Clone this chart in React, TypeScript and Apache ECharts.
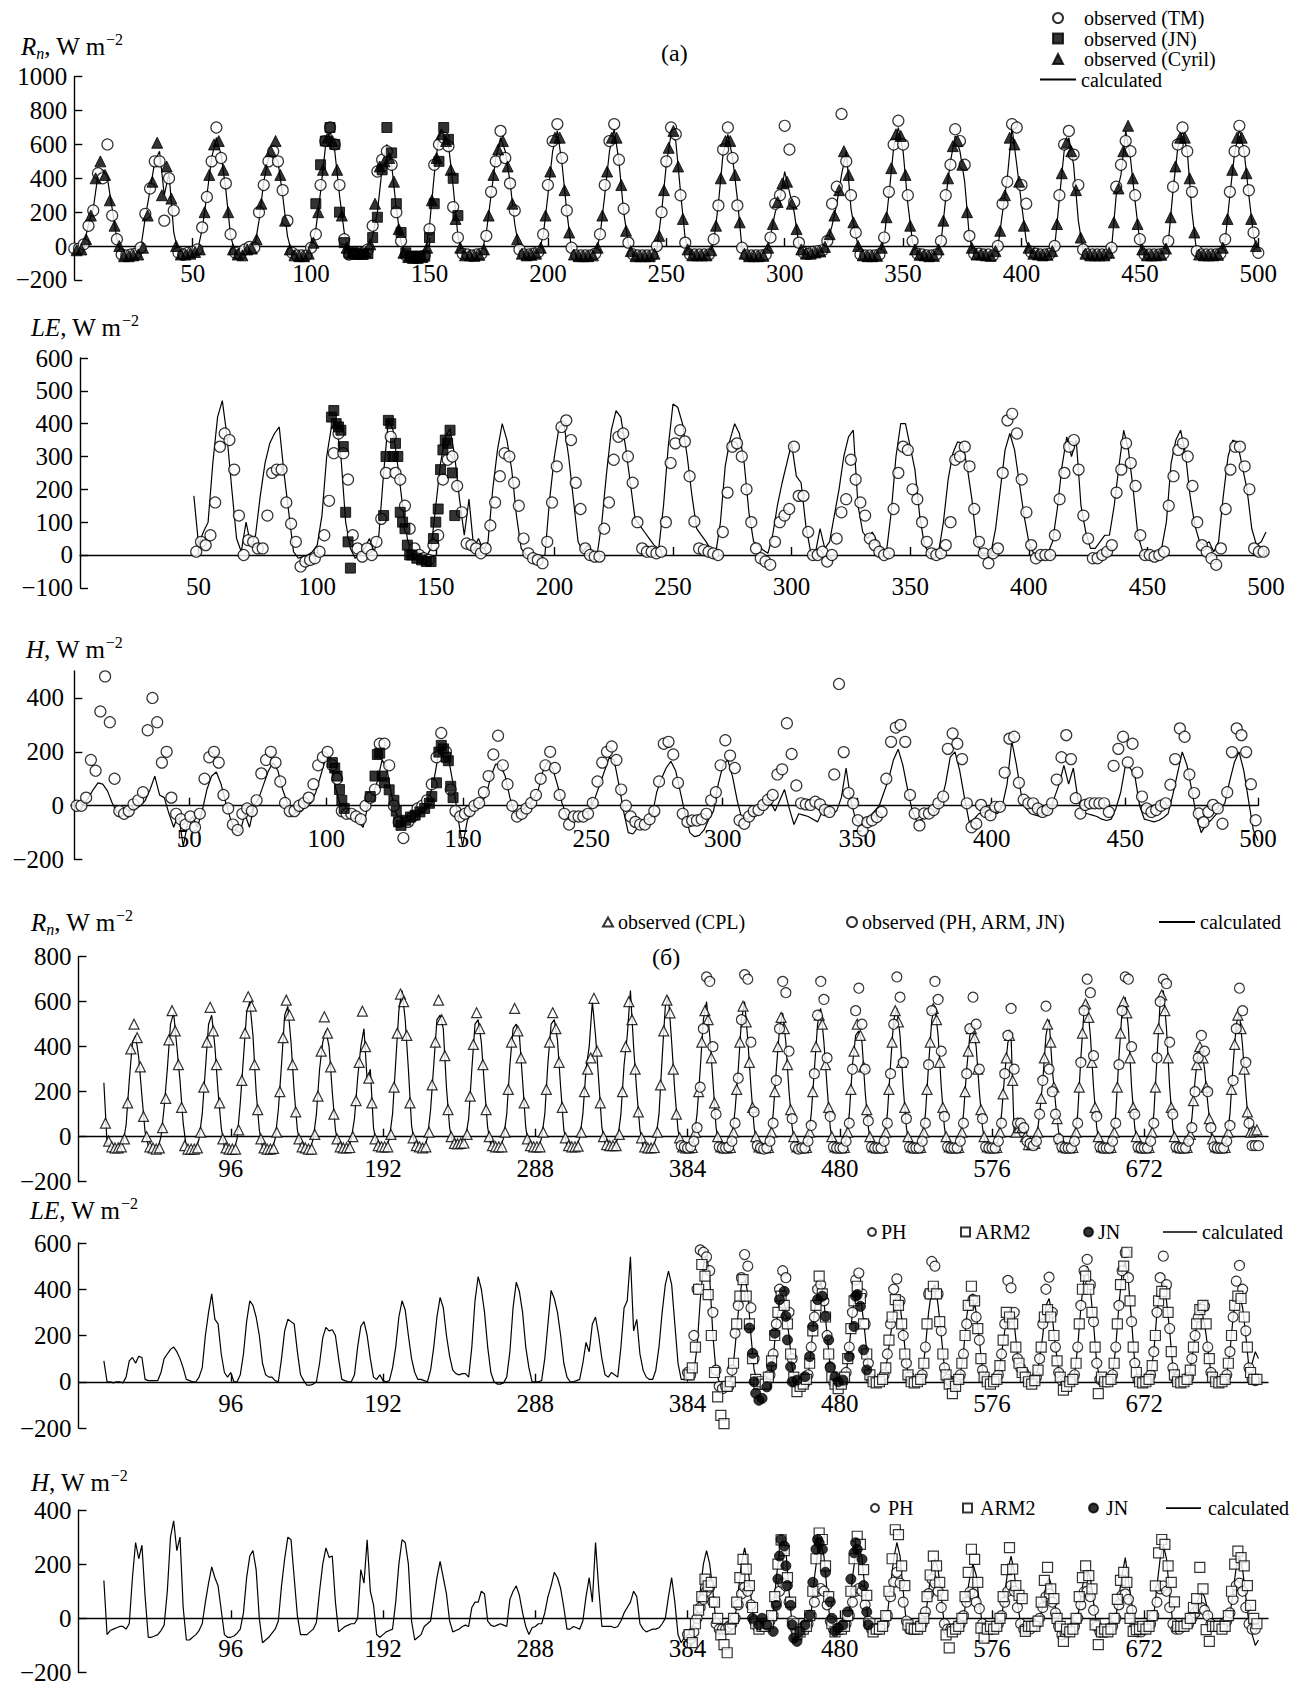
import React, { useEffect, useRef } from "react";
import * as echarts from "echarts";

const FONT = "'Liberation Serif', 'Times New Roman', Times, serif";

// ---------------- tick values / labels ----------------
const xTicksA = [50, 100, 150, 200, 250, 300, 350, 400, 450, 500];
const hTicksA = [48.6, 106.4, 164.2, 218.4, 273.9, 330.7, 387.5, 443.9, 500];
const hLabelsA = ["50", "100", "150", "250", "300", "350", "400", "450", "500"];
const xTicksB = [96, 192, 288, 384, 480, 576, 672];
const hYTicksA = [-200, 0, 200, 400];

// ---------------- panel (a): Rn ----------------
const rnACalc = [
  [-20,-20,0,130,220,420,450,400,220,40,-55,-60],
  [-55,-50,-20,170,330,500,560,300,430,80,-45,-50],
  [-45,-40,-30,100,300,520,640,540,330,60,-45,-55],
  [-25,-10,-20,150,380,520,540,500,300,60,-50,-60],
  [-60,-60,-20,100,320,580,680,560,300,80,-40,-40],
  [-40,-40,-30,60,200,460,600,480,220,20,-60,-70],
  [-70,-70,-60,120,420,660,640,600,350,60,-50,-55],
  [-60,-55,-50,80,300,520,640,560,380,130,-30,-55],
  [-55,-50,-40,60,300,560,680,480,200,-20,-60,-60],
  [-60,-60,-50,60,300,560,690,500,200,10,-55,-60],
  [-60,-60,-60,-20,200,480,660,620,320,40,-55,-55],
  [-55,-55,-55,20,250,550,660,520,280,-20,-60,-60],
  [-60,-60,-55,60,200,280,440,320,200,10,-40,-45],
  [-40,-35,-30,20,120,250,420,560,220,60,-50,-60],
  [-60,-60,-55,40,300,580,700,560,250,20,-50,-55],
  [-60,-60,-55,20,280,500,650,560,380,50,-50,-50],
  [-55,-55,-60,-10,200,400,700,480,250,30,-40,-50],
  [-55,-55,-50,-10,280,560,640,480,150,-30,-55,-55],
  [-55,-55,-55,-20,300,420,680,520,260,20,-55,-55],
  [-55,-55,-50,20,330,580,680,560,200,-40,-55,-55],
  [-55,-55,-50,30,300,550,690,560,300,60,-40],
].flat();
const rnATM = [
  [-15,-15,10,120,210,430,400,600,180,40,-50,-55],
  [-50,-45,-10,190,340,500,500,150,400,210,-40,-50],
  [-40,-35,-20,110,290,500,700,520,370,70,-40,-50],
  [-20,-5,-10,200,360,500,560,500,330,150,-40,-55],
  [-55,-55,-10,70,360,620,700,600,360,40,-50,-45],
  [-45,-40,-20,120,440,510,560,480,200,30,-55,-65],
  [-65,-65,-55,100,480,600,640,590,230,50,-45,-50],
  [-55,-50,-45,60,320,500,680,520,370,210,-20,-50],
  [-50,-45,-35,70,360,620,720,520,210,-10,-55,-55],
  [-55,-55,-45,70,360,620,720,510,220,20,-50,-55],
  [-55,-55,-55,0,200,500,700,660,300,20,-50,-50],
  [-50,-50,-50,40,240,570,700,520,240,-10,-55,-55],
  [-55,-55,-50,50,250,300,710,570,260,20,-40,-45],
  [-35,-30,-25,30,250,350,780,500,300,80,-50,-55],
  [-55,-55,-50,50,320,600,740,600,300,30,-45,-50],
  [-55,-55,-50,30,300,480,690,620,480,60,-45,-45],
  [-50,-50,-55,0,250,380,720,700,360,250,-35,-45],
  [-50,-50,-45,0,300,600,680,540,360,-20,-50,-50],
  [-50,-50,-50,-10,350,480,620,560,300,40,-50,-50],
  [-50,-50,-45,30,350,600,700,560,320,-30,-50,-50],
  [-50,-50,-45,40,320,560,710,560,330,80,-40],
].flat();
const rnACyril = [
  [-25,-20,40,180,400,500,420,270,120,0,-60,-60],
  [-55,-50,-10,180,380,610,300,470,280,0,-50,-50],
  [-45,-35,-20,200,420,600,620,450,200,-20,-50,-55],
  [-20,-15,40,250,450,560,620,420,150,-20,-55,-60],
  [-60,-45,20,200,450,640,620,450,180,-10,-45,-40],
  [-40,-35,10,250,470,500,520,380,100,-40,-65,-70],
  [-70,-65,-10,270,520,660,620,450,160,-10,-55,-55],
  [-58,-52,-20,180,420,570,620,470,250,40,-45,-55],
  [-52,-45,-10,180,440,640,640,330,80,-50,-60,-60],
  [-60,-55,-10,180,440,640,640,360,90,-30,-60,-60],
  [-60,-60,-45,60,330,580,680,470,160,-20,-55,-55],
  [-55,-55,-25,120,400,620,620,420,140,-45,-60,-60],
  [-60,-58,-10,130,260,370,380,250,100,-20,-45,-45],
  [-38,-32,-5,70,180,330,560,420,140,0,-55,-60],
  [-60,-58,-10,170,460,660,650,420,120,-20,-52,-55],
  [-60,-58,-20,150,400,590,620,480,200,-10,-50,-50],
  [-55,-58,-30,90,300,640,600,380,120,-10,-45,-50],
  [-55,-52,-30,130,430,610,560,330,50,-45,-55,-55],
  [-55,-55,-40,140,340,560,710,400,130,-20,-55,-55],
  [-55,-52,-15,170,470,640,640,400,80,-50,-55,-55],
  [-55,-52,-10,160,450,640,640,430,160,0],
].flat();
const rnAJN = [250,480,620,700,600,200,20,-40,-40,-50,-50,-45,50,170,450,700,550,250,80,-40,-60,-60,-60,-60,50,250,500,700,630,400,180];

// ---------------- panel (a): LE ----------------
const leACalc = [
  [180,30,70,100,280,420,470,360,200,50,10,100],
  [30,60,180,280,340,370,390,250,130,10,-10,-5],
  [0,10,30,120,300,390,400,300,100,20,-10,5],
  [20,50,10,60,250,410,380,270,150,50,0,-5],
  [-10,-5,20,150,280,360,385,300,170,60,170,20],
  [50,15,40,200,320,400,350,260,120,20,0,-5],
  [-5,-5,0,170,300,390,400,300,170,40,10,30],
  [10,0,100,250,380,440,420,330,220,110,90,70],
  [50,30,20,150,330,460,450,400,300,180,80,60],
  [40,15,5,100,270,350,400,370,280,130,40,30],
  [15,5,60,150,220,280,340,240,220,90,10,5],
  [80,20,40,120,200,300,360,380,150,70,50,70],
  [40,20,10,130,300,400,400,330,260,120,30,5],
  [5,10,100,230,310,345,340,270,170,40,5,5],
  [5,80,200,320,370,320,220,120,40,5,5,5],
  [5,40,140,270,360,300,350,150,70,20,20,40],
  [60,60,150,270,380,320,200,60,10,5,5,10],
  [20,100,280,350,380,310,180,90,40,30,40,10],
  [40,180,300,350,340,270,200,80,30,40,70],
].flat();
const leATM = [
  [10,40,30,60,160,330,370,350,260,120,0,45],
  [40,20,20,120,250,260,260,160,95,40,-35,-20],
  [-15,-10,10,60,165,310,370,310,230,60,20,-5],
  [20,0,40,110,250,360,250,230,150,80,20,0],
  [-10,-15,30,60,230,290,300,210,130,35,30,20],
  [5,20,90,160,240,310,300,220,150,50,5,-10],
  [-15,-25,40,160,270,390,410,350,220,140,20,0],
  [-5,-5,80,160,290,360,370,300,220,100,20,10],
  [10,5,10,100,280,340,380,346,240,102,20,15],
  [10,5,0,70,190,330,340,300,200,100,20,-10],
  [-20,-30,40,100,120,140,330,180,180,70,0,0],
  [10,-20,0,50,130,170,290,230,160,120,50,30],
  [10,0,5,140,250,330,320,200,170,100,40,5],
  [0,5,30,100,290,300,330,270,140,40,5,-25],
  [5,20,250,410,430,370,230,130,30,-10,0,0],
  [0,60,170,250,330,350,260,120,50,-10,-10,0],
  [10,30,190,260,340,280,210,60,0,0,-5,0],
  [10,150,240,320,340,300,210,100,30,10,-10,-30],
  [20,140,260,330,330,270,200,20,10,10],
].flat();
const leAJN = [[106,420],[107,440],[108,400],[109,390],[110,380],[111,330],[112,130],[113,40],[114,-40],[128,120],[129,300],[130,410],[131,400],[132,300],[133,340],[134,300],[135,130],[136,100],[137,80],[138,30],[139,0],[140,0],[142,-10],[144,-15],[146,-20],[148,-20],[149,50],[150,100],[151,140],[152,260],[153,320],[154,350],[155,340],[156,380],[157,250],[158,120]];

// ---------------- panel (a): H ----------------
const hACalc = [
  [0,0,5,30,60,85,80,55,10,-25,-30,-25],
  [-15,-10,0,20,60,110,40,30,-30,-80,-30,-150],
  [-60,-40,-80,-20,60,110,125,80,10,-50,-90,-100],
  [-30,-80,0,30,80,130,160,130,60,10,-20,-25],
  [-20,0,10,50,110,170,180,80,10,-20,-10,-30],
  [-60,-80,0,40,90,170,140,40,-30,-65,-70,-55],
  [-40,-30,-20,30,100,200,220,180,80,-40,-150,-55],
  [-20,5,10,40,110,155,150,110,30,-30,-25,-10],
  [5,25,60,130,165,140,80,10,-40,-60,-50,-40],
  [-30,-10,30,80,130,180,170,80,-20,-100,-105,-80],
  [-60,-50,-40,50,100,140,165,130,50,-30,-100,-115],
  [-110,-90,-50,-20,80,150,170,110,20,-50,-50,-35],
  [-20,-10,10,15,-20,20,60,-10,-70,-30,-35,-40],
  [-50,-60,-20,0,-30,-20,30,140,20,-50,-70,-50],
  [-40,-20,0,50,100,170,210,150,60,-20,-60,-50],
  [-40,-30,-20,10,80,180,200,130,30,-60,-50,-30],
  [-25,-20,-20,-30,0,80,240,150,40,-10,-30,-35],
  [-40,-30,-20,30,80,150,80,140,20,-25,-30,-35],
  [-40,-50,-55,-50,-10,50,150,140,110,0,-50,-55],
  [-60,-55,-45,-30,40,120,200,150,60,-40,-100,-70],
  [-55,-35,-15,10,90,160,200,130,20,-90,-130],
].flat();
const hATM = [
  [0,0,30,170,130,350,480,310,100,-20,-30,-20],
  [5,20,50,280,400,310,160,200,30,-30,-50,-70],
  [-40,-80,-30,100,180,200,160,40,-10,-70,-90,-30],
  [-10,-20,20,120,170,200,160,90,10,-20,-20,0],
  [10,30,80,150,180,200,150,100,-20,-30,-30,-40],
  [-50,0,30,60,230,230,150,0,-60,-120,-60,-40],
  [-10,0,20,80,180,270,200,60,-20,-40,-30,-20],
  [0,10,50,110,190,260,150,80,0,-40,-30,-10],
  [10,40,100,150,200,140,40,-30,-70,-40,-40,-40],
  [-30,10,90,160,200,220,170,60,0,-40,-60,-70],
  [-70,-50,-20,90,230,237,190,85,-30,-60,-55,-55],
  [-50,-30,20,50,150,243,186,140,-54,-67,-40,-20],
  [-16,3,22,40,116,135,306,192,75,9,5,3],
  [15,5,-16,-23,116,452,199,47,9,-54,-92,-61],
  [-54,-42,-23,100,237,290,300,237,40,-29,-73,-29],
  [-29,-16,9,34,211,268,230,173,9,-80,-67,3],
  [-23,-35,-4,-4,123,249,256,85,22,9,9,-10],
  [-23,-16,9,97,180,262,173,28,-29,3,9,9],
  [9,9,-23,148,211,256,161,230,123,34,-10,-23],
  [-16,0,9,78,173,287,256,116,47,-29,-61,-23],
  [3,-10,-67,50,199,287,262,199,80,-54],
].flat();
const hAJN = [[109,160],[110,140],[111,110],[112,60],[113,20],[114,-10],[125,34],[127,110],[128,190],[129,195],[130,110],[131,85],[133,59],[135,20],[136,-20],[137,-60],[138,-73],[140,-54],[142,-42],[144,-35],[146,-23],[148,-10],[150,9],[151,34],[153,85],[154,199],[155,224],[156,211],[157,180],[158,167],[159,72],[160,30]];

// ---------------- panel (b): Rn ----------------
const rnBCalc = [
  [240,-30,-40,-50],
  [-55,-50,-30,50,250,420,450,350,180,20,-40,-50],
  [-55,-55,0,130,300,500,550,400,250,60,-50,-55],
  [-55,-55,-10,100,300,500,540,400,200,40,-50,-55],
  [-55,-60,-10,150,350,550,600,450,200,30,-50,-55],
  [-55,-55,-10,120,320,540,580,420,200,30,-45,-50],
  [-55,-55,-10,100,300,420,470,400,200,30,-45,-50],
  [-50,-50,-10,80,260,400,480,250,300,40,-40,-45],
  [-45,-45,-10,100,330,560,650,520,300,50,-40,-45],
  [-50,-50,-5,120,320,520,540,480,220,40,-30,-35],
  [-30,-30,-10,80,300,500,520,420,220,40,-40,-45],
  [-45,-50,-5,100,320,480,500,450,250,40,-40,-45],
  [-45,-50,-5,100,330,500,520,430,220,30,-40,-45],
  [-45,-45,-5,100,300,400,600,450,250,40,-30,-40],
  [-40,-40,-10,100,320,450,650,400,200,30,-45,-50],
  [-50,-50,-10,100,350,580,620,420,200,30,-45,-50],
  [-50,-50,-10,100,300,520,600,450,250,40,-45,-50],
  [-50,-50,-10,120,300,520,600,430,220,40,-45,-50],
  [-50,-50,-10,100,300,480,550,420,200,40,-45,-50],
  [-50,-50,-10,100,300,500,570,420,220,40,-45,-50],
  [-50,-50,-10,100,320,450,470,420,200,40,-45,-50],
  [-50,-50,-10,100,320,520,570,450,220,40,-45,-50],
  [-50,-50,-10,100,320,520,580,450,220,40,-45,-50],
  [-50,-50,-10,100,300,450,480,400,200,40,-45,-50],
  [-50,-50,-10,100,280,420,450,0,40,40,30,-30],
  [-30,-40,-10,100,250,450,520,300,150,20,-45,-50],
  [-50,-50,-10,100,350,560,600,450,220,40,-45,-50],
  [-50,-50,-10,100,350,560,620,480,220,40,-45,-50],
  [-50,-50,-10,100,350,600,650,480,220,40,-45,-50],
  [-50,-50,-10,80,250,380,400,300,150,20,-45,-50],
  [-50,-50,-10,100,320,500,550,400,200,30,20,30],
  [25],
].flat();
const rnBCPL = [
  [60,-20,-45,-50],
  [-50,-45,-10,150,390,500,440,310,90,0,-45,-50],
  [-55,-50,40,170,430,560,470,320,130,-40,-55,-55],
  [-55,-50,20,220,420,575,470,320,150,-10,-50,-55],
  [-55,-55,30,250,460,622,580,320,120,-10,-50,-55],
  [-55,-52,20,200,440,607,540,320,110,-10,-45,-50],
  [-55,-55,10,180,380,533,460,310,100,-10,-45,-50],
  [-50,-48,0,160,330,558,400,260,150,-10,-40,-45],
  [-45,-45,10,220,460,634,600,450,150,-5,-40,-45],
  [-50,-45,20,230,420,607,520,360,120,0,-30,-32],
  [-30,-28,10,180,410,551,480,320,120,0,-40,-45],
  [-45,-45,20,210,420,570,470,350,150,-10,-40,-45],
  [-45,-45,20,210,420,551,480,330,130,-5,-40,-45],
  [-45,-42,20,200,300,350,615,380,150,0,-35,-40],
  [-40,-40,10,200,400,600,520,300,110,-5,-45,-50],
  [-50,-48,20,230,470,607,550,300,100,-5,-45,-50],
  [-50,-48,20,200,420,560,520,350,150,0,-45,-50],
  [-50,-48,20,210,420,580,510,330,130,0,-45,-50],
  [-50,-48,20,200,400,530,480,320,120,0,-45,-50],
  [-50,-48,20,200,400,540,500,320,130,0,-45,-50],
  [-50,-48,20,210,380,500,450,310,120,0,-45,-50],
  [-50,-48,20,210,420,560,510,330,130,0,-45,-50],
  [-50,-48,20,210,420,570,520,330,130,0,-45,-50],
  [-50,-48,20,200,380,480,440,300,120,0,-45,-50],
  [-50,-48,20,190,350,450,250,20,40,40,0,-35],
  [-35,-30,20,170,350,500,420,220,80,-10,-45,-50],
  [-50,-48,20,220,460,590,530,330,130,0,-45,-50],
  [-50,-48,20,220,460,600,550,350,130,0,-45,-50],
  [-50,-48,20,220,480,630,560,350,130,0,-45,-50],
  [-50,-48,10,160,320,400,350,220,80,-10,-45,-50],
  [-50,-48,20,210,410,540,480,300,110,20,25,30],
].flat();
const rnBObs = [
  [-40,-45],
  [-50,-45,-20,40,220,480,710,690,400,100,-45,-50],
  [-50,-45,-20,60,260,520,720,700,420,110,-40,-50],
  [-55,-50,-20,60,250,480,690,640,380,80,-45,-55],
  [-50,-50,-20,50,280,540,690,610,350,90,-45,-50],
  [-50,-50,-20,60,300,560,660,500,300,70,-45,-50],
  [-50,-50,-20,60,280,500,710,620,330,80,-45,-50],
  [-50,-50,-20,60,320,560,690,610,380,90,-45,-50],
  [-50,-50,-20,60,280,480,620,500,300,80,-45,-50],
  [-50,-50,-20,60,280,450,570,300,60,60,40,-20],
  [-30,-40,-20,100,250,580,300,200,100,-10,-45,-50],
  [-50,-50,-20,60,330,560,700,640,360,90,-45,-50],
  [-50,-50,-20,60,320,560,710,700,400,100,-45,-50],
  [-50,-50,-20,60,350,600,700,680,420,100,-45,-50],
  [-50,-50,-20,40,200,350,450,380,200,40,-45,-50],
  [-50,-50,-20,50,250,480,660,560,330,60,-40,-40],
  [-40],
].flat();

// ---------------- panel (b): LE ----------------
const leBCalc = [
  [90,0,0,-5],
  [0,0,-5,20,90,105,80,110,105,10,5,5],
  [5,5,40,100,120,140,150,130,100,60,10,5],
  [0,0,20,60,200,300,380,270,250,120,40,20],
  [40,0,0,30,120,260,350,330,280,200,80,30],
  [20,20,5,0,100,220,270,260,250,130,30,5],
  [-15,-15,-10,0,80,190,235,220,225,200,100,10],
  [5,0,0,30,150,240,260,200,100,20,10,30],
  [5,0,5,60,150,280,350,310,200,100,40,10],
  [10,5,0,50,150,280,365,320,200,110,50,35],
  [30,35,35,20,150,350,455,400,300,150,40,0],
  [-10,-10,-5,20,130,320,430,390,300,150,60,0],
  [0,0,5,100,250,395,360,300,200,80,20,0],
  [0,5,10,80,170,130,250,280,200,100,30,20],
  [40,30,20,150,320,350,540,220,270,120,50,20],
  [10,10,50,150,300,420,478,420,250,80,10,10],
  [20,30,40,150,350,500,560,450,200,40,0,0],
  [0,0,20,150,300,420,460,380,200,50,0,0],
  [0,0,20,100,250,350,380,300,200,60,0,0],
  [0,5,20,150,300,400,430,350,200,60,0,0],
  [0,10,30,150,300,380,400,320,200,60,10,0],
  [0,5,20,100,200,300,350,330,220,80,10,0],
  [0,5,30,150,300,400,420,330,200,60,10,0],
  [0,5,30,130,280,370,380,300,180,50,10,0],
  [0,5,30,120,220,290,300,250,120,60,40,10],
  [0,5,20,100,200,330,360,280,150,50,10,0],
  [0,5,30,150,320,450,500,400,250,80,10,0],
  [0,5,30,150,330,470,520,430,260,80,10,0],
  [0,5,30,130,300,400,430,350,220,60,10,0],
  [0,5,20,100,200,280,300,250,150,40,10,0],
  [0,5,30,130,280,370,380,320,200,60,80,130],
  [100],
].flat();
const leBPH = [
  [40,30,200,400,570,560,540,480,300,50,-20,-30],
  [-20,-20,50,210,330,450,550,500,320,100,0,-10],
  [-10,-10,30,120,250,400,480,450,300,100,0,-10],
  [-10,-5,30,150,280,400,420,350,200,60,0,-5],
  [-5,0,40,150,300,440,470,380,250,80,10,0],
  [0,5,30,120,250,400,445,350,200,80,20,0],
  [0,5,30,150,380,520,500,380,220,60,10,0],
  [0,5,30,120,250,330,355,280,180,50,10,0],
  [0,5,30,120,250,438,406,300,100,60,40,10],
  [0,5,20,100,250,400,452,300,150,40,5,0],
  [0,5,30,150,330,480,529,420,260,80,10,0],
  [0,5,30,150,330,480,558,450,260,80,10,0],
  [0,5,30,130,300,450,543,420,230,60,10,0],
  [0,5,20,100,200,280,320,326,150,40,10,0],
  [0,5,30,130,280,435,503,400,220,60,10,5],
].flat();
const leBARM = [
  [30,60,150,400,507,457,377,200,40,-65,-145,-181],
  [-20,0,80,250,370,442,370,250,100,10,-10,0],
  [-10,20,90,200,300,370,330,250,120,20,-43,-20],
  [-10,10,80,220,330,457,380,280,120,20,-10,-30],
  [-10,20,100,230,350,413,360,250,120,30,0,-5],
  [0,10,60,180,280,355,330,250,120,30,0,-5],
  [0,10,80,250,380,413,380,260,120,30,-10,-51],
  [-20,10,80,200,330,413,350,230,100,20,0,-10],
  [0,10,70,180,300,280,250,150,80,40,20,0],
  [-10,5,50,150,280,312,280,200,90,20,-36,-20],
  [0,10,80,250,400,457,400,300,150,-51,20,0],
  [0,10,80,250,420,500,560,350,150,40,0,-5],
  [0,10,70,200,350,391,380,300,130,30,0,-5],
  [0,10,50,150,250,312,330,250,100,20,0,-5],
  [0,10,80,200,330,370,360,280,150,40,10,10],
].flat();
const leBJN = [[423,232],[425,123],[426,0],[427,-50],[429,-80],[431,-72],[434,-22],[437,65],[439,210],[442,355],[445,391],[446,283],[447,181],[449,65],[450,0],[453,7],[458,22],[461,109],[463,239],[466,355],[469,370],[471,283],[473,181],[474,65],[477,22],[479,0],[482,7],[486,109],[489,239],[490,370],[491,377],[493,326],[495,138],[497,51]];

// ---------------- panel (b): H ----------------
const hBCalc = [
  [140,-60,-45,-40],
  [-35,-30,-30,-40,-20,150,280,220,270,80,-70,-70],
  [-65,-60,-45,-25,100,300,360,250,300,40,-80,-80],
  [-70,-60,-45,-20,60,130,190,150,120,30,-60,-70],
  [-70,-65,-55,-40,20,150,230,250,180,0,-90,-80],
  [-70,-55,-40,-10,120,220,300,290,150,10,-60,-60],
  [-60,-50,-40,-15,100,200,260,225,230,60,-50,-40],
  [-30,-25,-20,-20,0,180,130,290,100,50,-60,-70],
  [-60,-50,-45,-40,60,200,290,280,200,-10,-80,-70],
  [-60,-30,-20,-10,70,150,210,150,90,-10,-50,-45],
  [-40,-30,-25,-30,40,60,60,100,90,-10,-25,-30],
  [-25,-20,-25,-30,70,100,120,85,20,-30,-60,-35],
  [-30,-20,-20,20,80,120,170,150,110,40,-40,-40],
  [-30,-35,-40,-10,80,150,60,280,110,-30,-30,-30],
  [-30,-35,-30,-10,20,40,60,100,80,-20,-40,-50],
  [-45,-40,-40,-35,-20,0,80,150,60,-60,-90,-70],
  [-60,-40,-20,20,100,200,250,200,100,-20,-60,-50],
  [-50,-40,-30,0,100,200,260,200,80,-20,-50,-40],
  [-40,-30,-20,20,150,250,300,250,100,-30,-70,-60],
  [-50,-40,-20,20,150,240,280,230,100,-20,-60,-50],
  [-40,-30,-20,20,150,240,270,220,100,-20,-60,-50],
  [-40,-30,-20,10,120,220,280,230,100,-20,-50,-40],
  [-40,-30,-20,0,100,180,220,180,80,-30,-60,-50],
  [-40,-30,-20,0,80,150,200,160,60,-30,-50,-40],
  [-40,-30,-20,0,90,180,230,170,60,-20,-40,-30],
  [-30,-30,-20,-10,50,120,150,110,40,-20,-40,-40],
  [-50,-40,-30,0,80,150,180,150,60,-30,-70,-60],
  [-50,-40,-30,0,80,160,224,140,60,-30,-60,-50],
  [-40,-30,-20,10,120,220,270,220,90,-20,-40,-30],
  [-30,-20,-20,-10,30,70,100,80,30,-20,-40,-40],
  [-40,-30,-20,10,100,190,230,180,80,-20,-60,-100],
  [-80],
].flat();
const hBPH = [
  [-60,-75,-50,0,40,70,100,115,60,-20,-40,-40],
  [-40,-30,-20,0,50,90,115,100,50,-10,-30,-30],
  [-30,-20,-10,10,60,100,130,120,60,-10,-40,-40],
  [-40,-30,-20,10,60,100,110,100,50,-10,-40,-40],
  [-40,-30,-20,10,60,100,110,100,50,-10,-40,-40],
  [-40,-30,-20,10,80,133,170,130,60,-10,-40,-40],
  [-40,-30,-20,24,91,145,130,100,40,-20,-40,-40],
  [-40,-30,-20,10,60,97,90,60,36,-20,-40,-40],
  [-40,-30,-20,10,60,100,121,100,40,-20,-40,-40],
  [-40,-30,-20,0,40,80,90,60,20,-30,-61,-55],
  [-50,-40,-30,0,50,97,100,80,30,-30,-50,-50],
  [-50,-40,-30,0,50,85,90,70,30,-30,-50,-50],
  [-40,-30,-20,10,60,109,120,100,40,-20,-40,-40],
  [-30,-20,-20,0,20,36,40,30,10,-20,-30,-30],
  [-30,-20,-10,20,70,121,130,100,40,-20,-40,-40],
].flat();
const hBARM = [
  [-60,-90,-20,30,80,145,120,133,60,0,-61,-97],
  [-127,-40,0,60,150,218,182,121,40,-20,-40,-30],
  [-30,-20,10,80,200,290,250,150,60,-20,-60,-50],
  [-40,-30,10,100,220,315,291,194,80,-20,-50,-40],
  [-40,-30,10,100,220,303,273,180,85,-20,-50,-40],
  [-40,-30,10,100,220,327,309,194,121,-24,-36,-40],
  [-40,-30,0,80,160,230,194,133,85,-61,-109,-50],
  [-40,-30,0,80,170,255,218,133,-36,-73,-40,-30],
  [-40,-30,0,80,180,261,182,121,85,73,-48,-30],
  [-30,-30,-10,60,140,188,109,73,0,-30,-85,-40],
  [-50,-40,0,80,150,194,158,109,-24,-97,-50,-40],
  [-50,-40,0,70,140,170,133,0,-48,-42,-40,-30],
  [-40,-30,10,120,242,291,273,194,133,61,-30,-30],
  [-30,-20,0,40,73,188,109,-42,-85,-30,-30,-30],
  [-40,-30,10,100,200,248,224,194,121,48,0,-20],
].flat();
const hBJN = [[425,0],[429,-24],[431,0],[434,-24],[438,-48],[440,48],[441,145],[442,230],[443,291],[445,267],[446,194],[447,121],[449,48],[450,-24],[451,-73],[453,-85],[455,-48],[458,-24],[461,12],[463,133],[465,255],[466,291],[467,279],[469,255],[471,170],[474,61],[475,0],[477,-48],[479,-36],[482,-24],[485,24],[487,145],[489,242],[490,279],[491,255],[494,218],[495,121],[497,24],[498,-24]];

// ---------------- helpers ----------------
const seq = (start: number, vals: number[]) => vals.map((v, i) => [start + i * 2, v]);
const minus = (v: number) => (v < 0 ? "\u2212" + Math.abs(v) : String(v));
const AX = { color: "#000", width: 1.4 };

function yAx(gi: number, min: number, max: number, interval: number, custom?: number[]) {
  const o: any = {
    type: "value", gridIndex: gi, min, max, interval,
    axisLine: { show: true, lineStyle: AX },
    axisTick: { show: true, inside: true, length: 8, lineStyle: AX },
    axisLabel: { show: true, margin: 7, fontFamily: FONT, fontSize: 25, color: "#000", formatter: minus },
    splitLine: { show: false },
  };
  if (custom) { o.axisTick.customValues = custom; o.axisLabel.customValues = custom; }
  return o;
}
function xAx(gi: number, min: number, max: number, ticks: number[], margin: number, fmt?: (v: number) => string) {
  return {
    type: "value", gridIndex: gi, min, max,
    axisLine: { show: true, onZero: true, lineStyle: AX },
    axisTick: { show: true, inside: true, length: 8, lineStyle: AX, customValues: ticks },
    axisLabel: { show: true, margin, fontFamily: FONT, fontSize: 25, color: "#000", customValues: ticks, formatter: fmt || ((v: number) => String(v)) },
    splitLine: { show: false },
  };
}
const lineS = (gi: number, data: any[]) => ({
  type: "line", name: "calculated", xAxisIndex: gi, yAxisIndex: gi, data,
  symbol: "none", lineStyle: { color: "#000", width: 1.2 }, itemStyle: { color: "#000" }, z: 2, silent: true,
});
const scat = (name: string, gi: number, data: any[], symbol: string, size: number, filled: boolean, z = 3) => ({
  type: "scatter", name, xAxisIndex: gi, yAxisIndex: gi, data, symbol, symbolSize: size,
  itemStyle: filled ? { color: "#000", borderColor: "#000", borderWidth: 1 } : { color: "#fff", borderColor: "#000", borderWidth: 1.2 },
  z, silent: true,
});

const hLabelFmt = (v: number) => {
  let b = 0;
  for (let i = 0; i < hTicksA.length; i++) if (Math.abs(hTicksA[i] - v) < Math.abs(hTicksA[b] - v)) b = i;
  return hLabelsA[b];
};

const rich = {
  it: { fontFamily: FONT, fontStyle: "italic", fontWeight: "normal", fontSize: 25, lineHeight: 30, color: "#000" },
  t: { fontFamily: FONT, fontWeight: "normal", fontSize: 25, lineHeight: 30, color: "#000" },
  sub: { fontFamily: FONT, fontStyle: "italic", fontWeight: "normal", fontSize: 16, lineHeight: 14, verticalAlign: "bottom", color: "#000" },
  sup: { fontFamily: FONT, fontWeight: "normal", fontSize: 16, lineHeight: 14, verticalAlign: "top", color: "#000" },
};
const ttl = (text: string, left: number, top: number) => ({
  text, left, top, padding: 0,
  textStyle: { fontFamily: FONT, fontWeight: "normal", fontSize: 25, color: "#000", rich },
});
const lineIcon = "path://M0,0L40,0L40,2L0,2Z";
const legText = { fontFamily: FONT, fontSize: 20, color: "#000" };
const leg = (data: any[], left: number, top: number, w: number, h: number, extra: any = {}) => ({
  data, left, top, itemWidth: w, itemHeight: h, padding: 0, selectedMode: false,
  textStyle: legText, ...extra,
});

function buildOption() {
  return {
    animation: false,
    backgroundColor: "#fff",
    title: [
      ttl("{it|R}{sub|n}{t|, W m}{sup|\u22122}", 21, 31),
      ttl("{it|LE}{t|, W m}{sup|\u22122}", 31, 312),
      ttl("{it|H}{t|, W m}{sup|\u22122}", 26, 634),
      ttl("{it|R}{sub|n}{t|, W m}{sup|\u22122}", 31, 907),
      ttl("{it|LE}{t|, W m}{sup|\u22122}", 30, 1195),
      ttl("{it|H}{t|, W m}{sup|\u22122}", 31, 1467),
      { text: "(a)", left: 661, top: 41, padding: 0, textStyle: { fontFamily: FONT, fontWeight: "normal", fontSize: 24, color: "#000" } },
      { text: "(\u0431)", left: 652, top: 945, padding: 0, textStyle: { fontFamily: FONT, fontWeight: "normal", fontSize: 24, color: "#000" } },
    ],
    legend: [
      leg(["observed (TM)", "observed (JN)", "observed (Cyril)"], 1052, 8, 10, 10,
        { orient: "vertical", itemGap: 0.5, textStyle: { ...legText, lineHeight: 20, padding: [0, 0, 0, 16] } }),
      leg([{ name: "calculated", icon: lineIcon }], 1040, 69.5, 36, 10, { textStyle: { ...legText, lineHeight: 20 } }),
      leg(["observed (CPL)"], 602, 912, 10, 9),
      leg(["observed (PH, ARM, JN)"], 846, 912, 10, 10),
      leg([{ name: "calculated", icon: lineIcon }], 1159, 912, 36, 10),
      leg(["PH"], 867, 1222, 8, 9),
      leg(["ARM2"], 960, 1222, 9, 9),
      leg(["JN"], 1083, 1222, 9, 9),
      leg([{ name: "calculated", icon: lineIcon }], 1163, 1222, 34, 10),
      leg(["PH"], 870, 1498, 8, 9, { textStyle: { ...legText, padding: [0, 0, 0, 4] } }),
      leg(["ARM2"], 962, 1498, 9, 9, { textStyle: { ...legText, padding: [0, 0, 0, 3] } }),
      leg(["JN"], 1088, 1498, 9, 9, { textStyle: { ...legText, padding: [0, 0, 0, 3] } }),
      leg([{ name: "calculated", icon: lineIcon }], 1166, 1498, 35, 10, { textStyle: { ...legText, padding: [0, 0, 0, 2] } }),
    ],
    grid: [
      { left: 74.3, top: 76.7, width: 1184, height: 203.2 },
      { left: 80, top: 358, width: 1186, height: 229.8 },
      { left: 71, top: 671, width: 1187, height: 188.6 },
      { left: 78.5, top: 956.7, width: 1189.5, height: 225 },
      { left: 78.5, top: 1243, width: 1189.5, height: 185 },
      { left: 78.5, top: 1510, width: 1189.5, height: 166.7 },
    ],
    xAxis: [
      xAx(0, 0, 500, xTicksA, -19),
      xAx(1, 0, 500, xTicksA, -14),
      xAx(2, -1.4, 500, hTicksA, -34, hLabelFmt),
      xAx(3, 0, 750, xTicksB, -26),
      xAx(4, 0, 750, xTicksB, -37),
      xAx(5, 0, 750, xTicksB, -37),
    ],
    yAxis: [
      yAx(0, -200, 1000, 200),
      yAx(1, -100, 600, 100),
      yAx(2, -200, 500, 200, hYTicksA),
      yAx(3, -200, 800, 200),
      yAx(4, -200, 600, 200),
      yAx(5, -200, 400, 200),
    ],
    series: [
      lineS(0, seq(0, rnACalc)),
      scat("observed (TM)", 0, seq(0, rnATM), "circle", 11, false),
      scat("observed (Cyril)", 0, seq(1, rnACyril), "triangle", 11, true, 4),
      scat("observed (JN)", 0, seq(102, rnAJN), "rect", 10, true, 5),

      lineS(1, seq(48, leACalc)),
      scat("observed (TM)", 1, seq(49, leATM), "circle", 11, false),
      scat("observed (JN)", 1, leAJN, "rect", 10, true, 4),

      lineS(2, seq(0, hACalc)),
      scat("observed (TM)", 2, seq(1, hATM), "circle", 11, false),
      scat("observed (JN)", 2, hAJN, "rect", 10, true, 4),

      lineS(3, seq(16, rnBCalc)),
      scat("observed (CPL)", 3, seq(17, rnBCPL), "triangle", 10, false),
      scat("observed (PH, ARM, JN)", 3, seq(380, rnBObs), "circle", 10, false, 4),

      lineS(4, seq(16, leBCalc)),
      scat("PH", 4, seq(384, leBPH), "circle", 10, false),
      scat("ARM2", 4, seq(385, leBARM), "rect", 10, false, 4),
      scat("JN", 4, leBJN, "circle", 10, true, 5),

      lineS(5, seq(16, hBCalc)),
      scat("PH", 5, seq(384, hBPH), "circle", 10, false),
      scat("ARM2", 5, seq(385, hBARM), "rect", 10, false, 4),
      scat("JN", 5, hBJN, "circle", 10, true, 5),
    ],
  };
}

export default function App() {
  const ref = useRef<HTMLDivElement>(null);
  useEffect(() => {
    if (!ref.current) return;
    const chart = echarts.init(ref.current, undefined, { renderer: "svg" });
    chart.setOption(buildOption() as any);
    return () => chart.dispose();
  }, []);
  return (
    <div
      ref={ref}
      style={{ position: "absolute", left: 0, top: 0, width: 1304, height: 1685, background: "#fff" }}
    />
  );
}
